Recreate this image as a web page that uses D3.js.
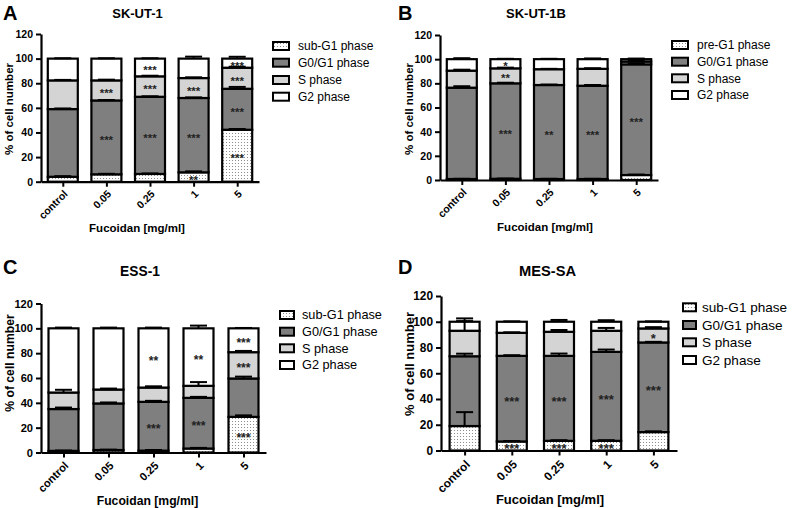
<!DOCTYPE html>
<html>
<head>
<meta charset="utf-8">
<script src="https://cdn.jsdelivr.net/npm/d3@7"></script>
<style>
  body { margin: 0; background: #fff; }
  text { font-family: "Liberation Sans", Arial, sans-serif; }
</style>
</head>
<body>
<script>
// categories and labels
const doses = ["control", "0.05", "0.25", "1", "5"];
const phaseNames = ["sub-G1 phase", "G0/G1 phase", "S phase", "G2 phase"];
const phaseNamesB = ["pre-G1 phase", "G0/G1 phase", "S phase", "G2 phase"];
const yTicks = [0, 20, 40, 60, 80, 100, 120];
const xTitle = "Fucoidan [mg/ml]";
const yTitle = "% of cell number";

// % of cells per phase, rows: sub-G1, G0/G1, S, G2 ; columns follow doses
const skut1Pct = [
  [4, 6, 6.3, 7.6, 42.2],
  [55, 60, 62.7, 60.4, 33.3],
  [23.3, 16.3, 16.6, 16.2, 17.1],
  [17.7, 17.7, 14.4, 15.8, 7.4]
];
const skut1Err = [
  [0.5, 0.4, 0.4, 0.8, 0.6],
  [0.5, 0.4, 0.4, 0.5, 1.5],
  [0.4, 0.6, 0.5, 0.6, 0.8],
  [0.3, 0.3, 0.3, 1.6, 1.5]
];
const skut1Stars = [
  ["", "", "", "**", "***"],
  ["", "***", "***", "***", "***"],
  ["", "***", "***", "***", "***"],
  ["", "", "***", "", "***"]
];

const skut1bPct = [
  [0.8, 1, 0.8, 0.8, 4.1],
  [75.6, 79, 77.8, 77.2, 91.6],
  [14.1, 12.4, 13.1, 14, 2.3],
  [9.5, 7.6, 8.3, 8, 2]
];
const skut1bErr = [
  [0.2, 0.2, 0.2, 0.2, 0.4],
  [1.2, 0.5, 0.4, 0.6, 0.8],
  [0.8, 0.6, 0.3, 0.5, 0.8],
  [0.8, 0.3, 0.3, 0.6, 0.5]
];
const skut1bStars = [
  ["", "", "", "", ""],
  ["", "***", "**", "***", "***"],
  ["", "**", "", "", ""],
  ["", "*", "", "", ""]
];

const ess1Pct = [
  [1.3, 2, 1.5, 3.2, 28.7],
  [33.7, 37.5, 39.3, 40.8, 30.9],
  [13.3, 11.2, 11.5, 9.7, 21.2],
  [51.7, 49.3, 47.7, 46.3, 19.2]
];
const ess1Err = [
  [0.3, 0.3, 0.5, 0.5, 1.2],
  [1.2, 0.8, 0.8, 0.8, 1.5],
  [2.2, 0.8, 1, 3, 1],
  [0.6, 0.6, 0.6, 2.2, 0.3]
];
const ess1Stars = [
  ["", "", "", "", "***"],
  ["", "", "***", "***", ""],
  ["", "", "", "", "***"],
  ["", "", "**", "**", "***"]
];

const messaPct = [
  [19, 7, 7.5, 7.5, 14.3],
  [54.2, 66.5, 66, 69.1, 69.6],
  [19.8, 17.9, 18.7, 16.4, 10.9],
  [7, 8.6, 7.8, 7, 5.2]
];
const messaErr = [
  [10.8, 0.4, 0.5, 0.5, 0.6],
  [2, 0.5, 1.8, 1.8, 0.5],
  [9.6, 0.4, 1.4, 2.2, 1],
  [0.5, 0.3, 1.4, 1.2, 0.3]
];
const messaStars = [
  ["", "***", "***", "***", ""],
  ["", "***", "***", "***", "***"],
  ["", "", "", "", "*"],
  ["", "", "", "", ""]
];

const fills = ["url(#dots)", "#7f7f7f", "#d4d4d4", "#ffffff"];

// panel layout
const panels = [
  { letter: "A", title: "SK-UT-1", names: phaseNames, pct: skut1Pct, err: skut1Err, stars: skut1Stars,
    k: 1, x0: 41, x1: 259, yTop: 34, yBot: 181.7,
    letterPos: [3, 20], titlePos: [137.5, 18], yLab: [13, 109], xLab: [137, 232],
    legX: 273, legW: 16, legRows: [46, 62.7, 80, 96.7], legText: 298 },
  { letter: "B", title: "SK-UT-1B", names: phaseNamesB, pct: skut1bPct, err: skut1bErr, stars: skut1bStars,
    k: 1, x0: 440, x1: 658, yTop: 35, yBot: 180,
    letterPos: [398, 20], titlePos: [536, 18], yLab: [413, 109], xLab: [545, 231],
    legX: 672, legW: 16, legRows: [45, 61.7, 78.3, 95], legText: 697 },
  { letter: "C", title: "ESS-1", names: phaseNames, pct: ess1Pct, err: ess1Err, stars: ess1Stars,
    k: 1.06, x0: 41, x1: 266, yTop: 303.5, yBot: 452.5,
    letterPos: [3, 274], titlePos: [140, 276], yLab: [13.5, 363], xLab: [147.5, 505],
    legX: 280, legW: 14, legRows: [315, 331.7, 348.3, 365], legText: 302 },
  { letter: "D", title: "MES-SA", names: phaseNames, pct: messaPct, err: messaErr, stars: messaStars,
    k: 1.13, x0: 441, x1: 677, yTop: 296, yBot: 450.5,
    letterPos: [398, 274], titlePos: [547.5, 276], yLab: [414, 364], xLab: [550, 504],
    legX: 683, legW: 13, legRows: [307.3, 325, 342.3, 360], legText: 702 }
];

const svg = d3.select("body").append("svg")
  .attr("width", 798)
  .attr("height", 508);

// dotted fill for sub-G1
const pat = svg.append("defs").append("pattern")
  .attr("id", "dots")
  .attr("patternUnits", "userSpaceOnUse")
  .attr("width", 3)
  .attr("height", 3);
pat.append("rect").attr("width", 3).attr("height", 3).attr("fill", "#fff");
pat.append("circle").attr("cx", 1.5).attr("cy", 1.5).attr("r", 0.55).attr("fill", "#7a7a7a");

const keys = ["p0", "p1", "p2", "p3"];

function drawPanel(p) {
  const g = svg.append("g");
  const k = p.k;

  const x = d3.scalePoint().domain(doses).range([p.x0, p.x1]).padding(0.5);
  const y = d3.scaleLinear().domain([0, 120]).range([p.yBot, p.yTop]);
  const barW = 30;
  const capW = 17;

  const table = doses.map((d, i) => {
    const row = { dose: d, i: i };
    keys.forEach((key, j) => { row[key] = p.pct[j][i]; });
    return row;
  });
  const series = d3.stack().keys(keys)(table);

  // bars
  series.forEach((s, j) => {
    g.append("g").selectAll("rect")
      .data(s)
      .join("rect")
      .attr("x", d => x(d.data.dose) - barW / 2)
      .attr("y", d => y(d[1]))
      .attr("width", barW)
      .attr("height", d => y(d[0]) - y(d[1]))
      .attr("fill", fills[j])
      .attr("stroke", "#000")
      .attr("stroke-width", 2.2);
  });

  // error bars (upward from each segment top)
  series.forEach((s, j) => {
    const eb = g.append("g").attr("stroke", "#000").attr("stroke-width", 2);
    s.forEach(d => {
      const e = p.err[j][d.data.i];
      const cx = x(d.data.dose);
      eb.append("line")
        .attr("x1", cx).attr("x2", cx)
        .attr("y1", y(d[1])).attr("y2", y(d[1] + e));
      eb.append("line")
        .attr("x1", cx - capW / 2).attr("x2", cx + capW / 2)
        .attr("y1", y(d[1] + e)).attr("y2", y(d[1] + e));
    });
  });

  // significance stars
  series.forEach((s, j) => {
    g.append("g").selectAll("text")
      .data(s.filter(d => p.stars[j][d.data.i] !== ""))
      .join("text")
      .attr("x", d => x(d.data.dose))
      .attr("y", d => y((d[0] + d[1]) / 2) + 6.5 * k)
      .attr("text-anchor", "middle")
      .attr("font-size", 11.5 * k)
      .attr("font-weight", "bold")
      .attr("fill", "#222")
      .text(d => p.stars[j][d.data.i]);
  });

  // axes
  const yAxis = g.append("g")
    .attr("transform", `translate(${p.x0},0)`)
    .call(d3.axisLeft(y).tickValues(yTicks).tickSize(5).tickSizeOuter(0));
  const xAxis = g.append("g")
    .attr("transform", `translate(0,${p.yBot})`)
    .call(d3.axisBottom(x).tickSize(5).tickSizeOuter(0));

  [yAxis, xAxis].forEach(a => {
    a.attr("font-family", null).attr("font-size", null);
    a.select(".domain").attr("stroke", "#000").attr("stroke-width", 2.2);
    a.selectAll(".tick line").attr("stroke", "#000").attr("stroke-width", 2);
    a.selectAll(".tick text")
      .attr("fill", "#000")
      .attr("font-weight", "bold")
      .attr("font-size", 10.5 * k);
  });
  yAxis.selectAll(".tick text").attr("x", -8);
  xAxis.selectAll(".tick text")
    .attr("y", 0)
    .attr("dy", 0)
    .attr("text-anchor", "end")
    .attr("transform", `translate(${5 * k},${13 * k}) rotate(-45)`);

  // panel letter and title
  g.append("text")
    .attr("x", p.letterPos[0]).attr("y", p.letterPos[1])
    .attr("font-size", 20)
    .attr("font-weight", "bold")
    .text(p.letter);
  g.append("text")
    .attr("x", p.titlePos[0]).attr("y", p.titlePos[1])
    .attr("text-anchor", "middle")
    .attr("font-size", 13 * k)
    .attr("font-weight", "bold")
    .text(p.title);

  // axis titles
  g.append("text")
    .attr("transform", `translate(${p.yLab[0]},${p.yLab[1]}) rotate(-90)`)
    .attr("text-anchor", "middle")
    .attr("font-size", 11.5 * k)
    .attr("font-weight", "bold")
    .text(yTitle);
  g.append("text")
    .attr("x", p.xLab[0]).attr("y", p.xLab[1])
    .attr("text-anchor", "middle")
    .attr("font-size", 11.5 * k)
    .attr("font-weight", "bold")
    .text(xTitle);

  // legend, top entry is sub-G1
  const leg = g.append("g");
  p.names.forEach((name, j) => {
    leg.append("rect")
      .attr("x", p.legX).attr("y", p.legRows[j] - 4)
      .attr("width", p.legW).attr("height", 8)
      .attr("fill", fills[j])
      .attr("stroke", "#000")
      .attr("stroke-width", 2);
    leg.append("text")
      .attr("x", p.legText).attr("y", p.legRows[j])
      .attr("dy", "0.35em")
      .attr("font-size", 12 * k)
      .text(name);
  });
}

panels.forEach(drawPanel);
</script>
</body>
</html>
